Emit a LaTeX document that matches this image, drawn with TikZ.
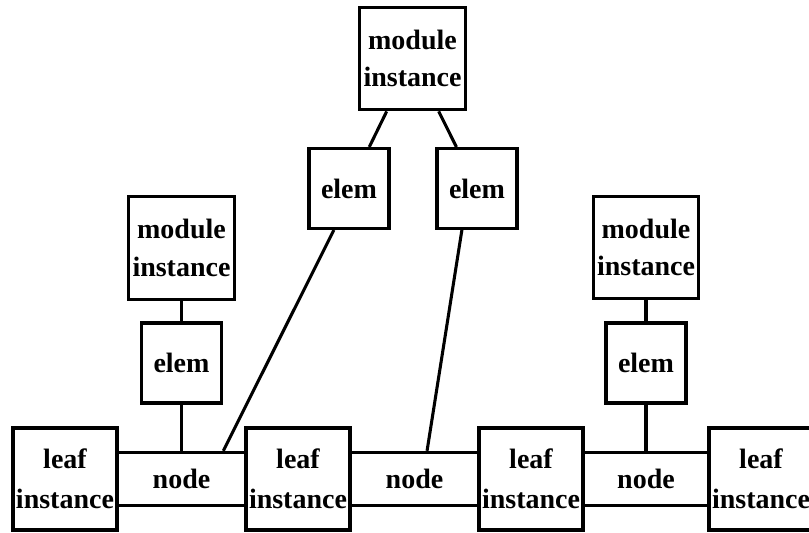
\documentclass[tikz,border=0pt]{standalone}
\usepackage{fontspec}
\setmainfont{Liberation Serif}
\usetikzlibrary{positioning}

\begin{document}
\begin{tikzpicture}[x=0.75pt,y=0.75pt,line width=2.3pt,
  font=\fontsize{21}{28}\selectfont\bfseries,
  box/.style={draw,align=center,inner sep=0pt},
  leafbox/.style={box,minimum width=78pt,minimum height=76.5pt,
    font=\fontsize{21}{30}\selectfont\bfseries},
  modbox/.style={box,minimum width=79pt,minimum height=77pt},
  elembox/.style={box,minimum width=60pt,minimum height=60pt},
  netbox/.style={box,minimum width=96pt,minimum height=40pt}]

\useasboundingbox (0,0) rectangle (809,532);

% bottom row: leaf instances and the nodes between them
\node [leafbox] (leafa) at (65,53) {leaf\\instance};
\node [leafbox] (leafb) at (298,53) {leaf\\instance};
\node [leafbox] (leafc) at (531,53) {leaf\\instance};
\node [leafbox] (leafd) at (761,53) {leaf\\instance};

\node [netbox] (neta) at (181.5,53) {node};
\node [netbox] (netb) at (414.5,53) {node};
\node [netbox,minimum width=94pt] (netc) at (646,53) {node};

% module instances and their elements
\node [modbox] (modl) at (181.5,284) {module\\instance};
\node [elembox] (eleml) at (181.5,169) {elem};

\node [modbox] (modr) at (646,284.5) {module\\instance};
\node [elembox] (elemr) at (646,169) {elem};

\node [modbox] (modt) at (412.5,473.5) {module\\instance};
\node [elembox] (elemta) at (349,343.5) {elem};
\node [elembox] (elemtb) at (477,343.5) {elem};

% connections
\draw (modl) -- (eleml);
\draw (eleml) -- (neta);
\draw (modr) -- (elemr);
\draw (elemr) -- (netc);
\draw (modt) -- (elemta);
\draw (modt) -- (elemtb);
\draw (elemta.250) -- (neta.34);
\draw (elemtb.250) -- (netb.66);

\end{tikzpicture}
\end{document}
